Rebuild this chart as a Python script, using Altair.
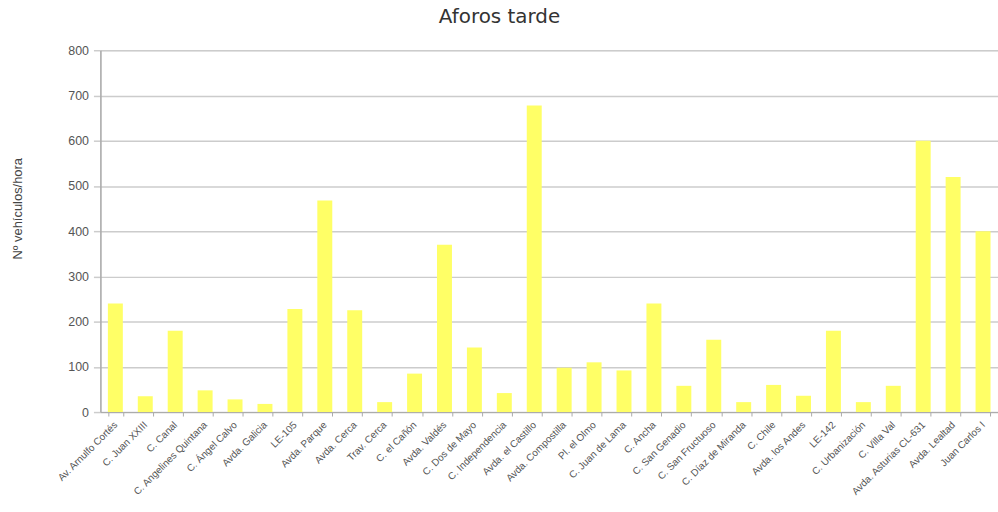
import altair as alt
import pandas as pd

# Afternoon traffic counts per counting point
calles = [
    "Av. Arnulfo Cortés", "C. Juan XXIII", "C. Canal", "C. Angelines Quintana",
    "C. Ángel Calvo", "Avda. Galicia", "LE-105", "Avda. Parque", "Avda. Cerca",
    "Trav. Cerca", "C. el Cañón", "Avda. Valdés", "C. Dos de Mayo",
    "C. Independencia", "Avda. el Castillo", "Avda. Compostilla", "Pl. el Olmo",
    "C. Juan de Lama", "C. Ancha", "C. San Genadio", "C. San Fructuoso",
    "C. Díaz de Miranda", "C. Chile", "Avda. los Andes", "LE-142",
    "C. Urbanización", "C. Villa Val", "Avda. Asturias CL-631", "Avda. Lealtad",
    "Juan Carlos I",
]
vehiculos = [
    240, 35, 180, 48, 28, 18, 228, 468, 225, 22,
    85, 370, 143, 42, 678, 98, 110, 92, 240, 58,
    160, 22, 60, 36, 180, 22, 58, 600, 520, 400,
]

df = pd.DataFrame({"calle": calles, "veh": vehiculos})

FONT = "DejaVu Sans"

chart = (
    alt.Chart(df)
    .mark_bar(color="#ffff66")
    .encode(
        x=alt.X(
            "calle:N",
            sort=None,
            title=None,
            scale=alt.Scale(paddingInner=0.5, paddingOuter=0.25),
            axis=alt.Axis(
                labelAngle=-45,
                labelAlign="right",
                labelBaseline="middle",
                labelFontSize=10,
                labelColor="#555555",
                labelPadding=7,
                tickBand="extent",
                tickSize=4,
                tickColor="#aaaaaa",
                domainColor="#aaaaaa",
                labelOverlap=False,
            ),
        ),
        y=alt.Y(
            "veh:Q",
            title="Nº vehículos/hora",
            scale=alt.Scale(domain=[0, 800]),
            axis=alt.Axis(
                values=list(range(0, 801, 100)),
                grid=True,
                gridColor="#cccccc",
                gridWidth=1.5,
                domainColor="#aaaaaa",
                domainWidth=1.5,
                tickColor="#cccccc",
                tickSize=7,
                tickWidth=1.5,
                labelFontSize=12.5,
                labelColor="#555555",
                labelPadding=5,
                titleFontSize=13,
                titleFontWeight="normal",
                titleColor="#444444",
                titleX=-76,
                titleY=159,
                titleAngle=-90,
            ),
        ),
    )
    .properties(
        width=903,
        height=364,
        title=alt.TitleParams(
            "Aforos tarde",
            fontSize=20,
            fontWeight="normal",
            color="#333333",
            font=FONT,
            dx=-50,
            offset=17,
        ),
        autosize=alt.AutoSizeParams(type="none"),
        padding={"left": 101, "top": 49, "right": 0, "bottom": 99},
    )
    .configure_view(stroke=None)
    .configure_axis(labelFont=FONT, titleFont=FONT)
    .configure(background="white")
)

chart.save("out.html", embed_options={"renderer": "svg", "actions": False})
